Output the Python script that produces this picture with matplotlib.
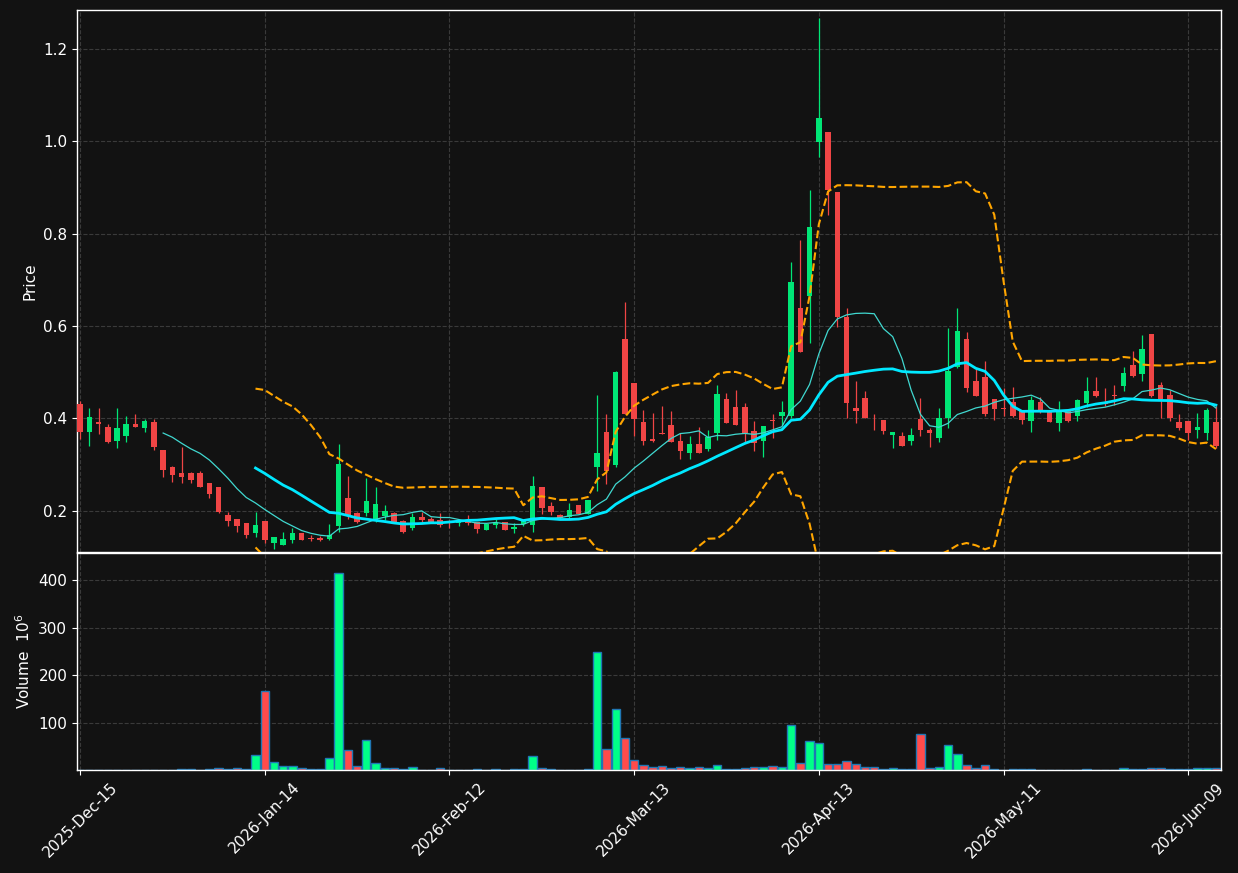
import numpy as np
import pandas as pd
import matplotlib
matplotlib.use("Agg")
from matplotlib import pyplot as plt

# daily OHLC (price) and volume (millions), one entry per trading day
opens = [0.432, 0.370, 0.393, 0.382, 0.352, 0.361, 0.388, 0.380, 0.393, 0.332,
         0.295, 0.282, 0.282, 0.282, 0.261, 0.252, 0.191, 0.183, 0.174, 0.153,
         0.178, 0.131, 0.127, 0.138, 0.152, 0.1415, 0.1415, 0.139, 0.168, 0.228,
         0.196, 0.196, 0.181, 0.188, 0.196, 0.178, 0.163, 0.187, 0.183, 0.1805,
         0.175, 0.1735, 0.1805, 0.177, 0.159, 0.169, 0.176, 0.1617, 0.172, 0.170,
         0.252, 0.211, 0.191, 0.186, 0.213, 0.1935, 0.294, 0.371, 0.2996, 0.572,
         0.477, 0.393, 0.356, 0.369, 0.386, 0.3515, 0.3255, 0.345, 0.333, 0.3695,
         0.442, 0.424, 0.424, 0.373, 0.352, 0.396, 0.405, 0.405, 0.640, 0.664,
         0.999, 1.020, 0.890, 0.620, 0.422, 0.445, 0.402, 0.396, 0.364, 0.362,
         0.352, 0.399, 0.375, 0.3587, 0.402, 0.512, 0.572, 0.481, 0.490, 0.442,
         0.423, 0.435, 0.4165, 0.3955, 0.436, 0.417, 0.391, 0.417, 0.406, 0.434,
         0.460, 0.4344, 0.451, 0.471, 0.516, 0.497, 0.583, 0.473, 0.451, 0.393,
         0.395, 0.376, 0.3695, 0.393]
highs = [0.437, 0.422, 0.422, 0.388, 0.422, 0.405, 0.409, 0.399, 0.399, 0.332,
         0.297, 0.339, 0.285, 0.287, 0.261, 0.252, 0.1985, 0.183, 0.174, 0.197,
         0.178, 0.144, 0.1545, 0.163, 0.153, 0.148, 0.146, 0.172, 0.345, 0.276,
         0.198, 0.271, 0.252, 0.212, 0.197, 0.180, 0.196, 0.197, 0.187, 0.195,
         0.1805, 0.183, 0.1907, 0.177, 0.172, 0.1827, 0.176, 0.173, 0.180, 0.276,
         0.252, 0.2195, 0.193, 0.2167, 0.213, 0.2245, 0.450, 0.409, 0.503, 0.652,
         0.477, 0.418, 0.4115, 0.426, 0.416, 0.368, 0.363, 0.382, 0.375, 0.473,
         0.455, 0.462, 0.434, 0.395, 0.384, 0.410, 0.438, 0.738, 0.786, 0.894,
         1.266, 1.020, 0.890, 0.639, 0.481, 0.460, 0.410, 0.396, 0.370, 0.370,
         0.379, 0.444, 0.380, 0.422, 0.5955, 0.639, 0.587, 0.509, 0.525, 0.442,
         0.4656, 0.468, 0.4165, 0.449, 0.446, 0.419, 0.438, 0.419, 0.4424, 0.4894,
         0.4894, 0.4656, 0.472, 0.511, 0.5463, 0.581, 0.583, 0.4792, 0.4619, 0.4093,
         0.395, 0.4115, 0.4222, 0.4273]
lows = [0.355, 0.341, 0.366, 0.347, 0.336, 0.350, 0.381, 0.370, 0.332, 0.274,
        0.263, 0.261, 0.261, 0.251, 0.227, 0.196, 0.168, 0.154, 0.142, 0.144,
        0.131, 0.118, 0.127, 0.131, 0.136, 0.135, 0.134, 0.137, 0.154, 0.182,
        0.173, 0.188, 0.175, 0.1805, 0.175, 0.152, 0.159, 0.177, 0.175, 0.165,
        0.164, 0.1675, 0.1703, 0.1517, 0.158, 0.1625, 0.158, 0.153, 0.167, 0.155,
        0.1935, 0.1907, 0.182, 0.182, 0.1935, 0.193, 0.243, 0.258, 0.2946, 0.41,
        0.361, 0.342, 0.350, 0.3667, 0.350, 0.313, 0.313, 0.3255, 0.3305, 0.354,
        0.391, 0.386, 0.349, 0.3305, 0.316, 0.357, 0.385, 0.400, 0.543, 0.564,
        0.965, 0.840, 0.599, 0.402, 0.390, 0.400, 0.375, 0.367, 0.335, 0.341,
        0.343, 0.361, 0.339, 0.350, 0.379, 0.509, 0.457, 0.449, 0.4056, 0.397,
        0.4056, 0.404, 0.388, 0.370, 0.4115, 0.392, 0.372, 0.3925, 0.3955, 0.4245,
        0.4461, 0.4273, 0.4294, 0.4604, 0.4907, 0.482, 0.446, 0.4006, 0.3948, 0.3753,
        0.3537, 0.3573, 0.3537, 0.3357]
closes = [0.370, 0.404, 0.387, 0.350, 0.380, 0.388, 0.3825, 0.395, 0.339, 0.289,
          0.278, 0.274, 0.267, 0.252, 0.237, 0.1985, 0.179, 0.168, 0.147, 0.170,
          0.138, 0.144, 0.139, 0.152, 0.138, 0.1395, 0.1375, 0.148, 0.302, 0.188,
          0.175, 0.222, 0.215, 0.200, 0.176, 0.1545, 0.187, 0.1805, 0.177, 0.170,
          0.1735, 0.1805, 0.174, 0.161, 0.172, 0.1735, 0.159, 0.1654, 0.178, 0.254,
          0.207, 0.198, 0.1855, 0.202, 0.1935, 0.224, 0.3255, 0.287, 0.501, 0.4106,
          0.398, 0.352, 0.352, 0.3667, 0.350, 0.3305, 0.345, 0.3255, 0.359, 0.453,
          0.391, 0.386, 0.3695, 0.346, 0.384, 0.394, 0.413, 0.696, 0.543, 0.8145,
          1.050, 0.894, 0.619, 0.434, 0.416, 0.400, 0.400, 0.373, 0.370, 0.341,
          0.3645, 0.374, 0.3695, 0.401, 0.503, 0.590, 0.466, 0.449, 0.410, 0.421,
          0.4215, 0.406, 0.3976, 0.440, 0.4186, 0.393, 0.4186, 0.3955, 0.440, 0.460,
          0.449, 0.4316, 0.448, 0.498, 0.491, 0.5506, 0.449, 0.442, 0.402, 0.380,
          0.3695, 0.382, 0.4186, 0.341]
volumes = [0.8, 0.6, 0.7, 0.5, 0.6, 0.2, 0.2, 0.3, 0.7, 0.8,
           0.9, 2.6, 1.2, 1.0, 2.6, 4.7, 2.6, 4.7, 2.6, 32.3,
           165.7, 16.7, 8.3, 8.3, 4.7, 2.6, 2.6, 25.9, 415.5, 42.8,
           9.0, 64.0, 15.3, 4.7, 4.7, 2.6, 6.8, 1.0, 0.9, 4.7,
           0.8, 0.7, 0.9, 2.6, 0.8, 2.6, 0.9, 2.6, 2.6, 30.1,
           4.7, 2.6, 0.8, 0.7, 0.9, 2.6, 248.2, 45.0, 127.5, 68.2,
           21.7, 11.1, 6.8, 9.0, 4.0, 6.8, 4.0, 6.8, 4.0, 11.1,
           1.9, 1.9, 4.7, 6.8, 6.8, 9.0, 6.8, 95.8, 15.3, 62.0,
           57.7, 13.2, 13.2, 19.5, 13.2, 6.8, 6.8, 1.9, 4.7, 1.9,
           1.9, 76.7, 4.0, 6.8, 53.4, 34.4, 11.1, 4.0, 11.1, 1.9,
           0.6, 1.9, 1.9, 1.9, 0.8, 0.7, 0.6, 0.7, 0.8, 1.9,
           0.7, 0.6, 0.8, 4.0, 1.9, 1.9, 4.0, 4.0, 1.9, 1.9,
           1.9, 4.0, 4.0, 4.0]

holidays = ["2025-12-25", "2026-01-01", "2026-01-19", "2026-02-16",
            "2026-04-03", "2026-05-25"]
dates = pd.bdate_range("2025-12-15", periods=len(closes), freq="C",
                       holidays=holidays)

BG = "#121212"
UP = "#00e676"
DOWN = "#f04545"
VUP = "#00ff88"
VDOWN = "#ff4b4b"

o = np.array(opens)
h = np.array(highs)
l = np.array(lows)
c = np.array(closes)
v = np.array(volumes)
x = np.arange(len(c))
up = c >= o

close_s = pd.Series(c)
ma10 = close_s.rolling(10).mean()
ma20 = close_s.rolling(20).mean()
std20 = close_s.rolling(20).std(ddof=0)
bb_up = ma20 + 2 * std20
bb_lo = ma20 - 2 * std20

fig = plt.figure(figsize=(12.38, 8.73), dpi=100, facecolor=BG)
W, H = 1238, 873
ax = fig.add_axes([77 / W, 1 - 552 / H, (1221 - 77) / W, 542 / H])
axv = fig.add_axes([77 / W, 1 - 770 / H, (1221 - 77) / W, 217 / H], sharex=ax)

for a in (ax, axv):
    a.set_facecolor(BG)
    for s in a.spines.values():
        s.set_color("white")
        s.set_linewidth(1.0)
    a.grid(True, linestyle="--", color="#3a3a3a", linewidth=0.8)
    a.set_axisbelow(True)
    a.tick_params(colors="white", labelsize=11)

# candles
ccol = np.where(up, UP, DOWN)
ax.vlines(x, l, h, colors=ccol, linewidth=0.9, zorder=2)
body_lo = np.minimum(o, c)
body_h = np.maximum(np.abs(c - o), 0.0012)
ax.bar(x, body_h, bottom=body_lo, width=0.6, color=ccol, linewidth=0, zorder=3)

# overlays
ax.plot(x, ma10, color="#40d8d0", linewidth=0.9, zorder=4)
ax.plot(x, ma20, color="#00e8ff", linewidth=2.0, zorder=4)
ax.plot(x, bb_up, color="#ffa500", linestyle="--", linewidth=1.5, zorder=4)
ax.plot(x, bb_lo, color="#ffa500", linestyle="--", linewidth=1.5, zorder=4)

ax.set_ylim(0.111, 1.284)
ax.set_yticks([0.2, 0.4, 0.6, 0.8, 1.0, 1.2])
ax.set_ylabel("Price", color="white", fontsize=11)
ax.tick_params(labelbottom=False)

# volume
vcol = np.where(up, VUP, VDOWN)
axv.bar(x, v, width=0.9, color=vcol, edgecolor="#1f77b4", linewidth=1.0)
axv.set_ylim(0.3 * v.min(), 1.1 * v.max())
axv.set_yticks([100, 200, 300, 400])
axv.set_ylabel("Volume  $10^{6}$", color="white", fontsize=11)

ticks = list(range(0, len(c), 20))
axv.set_xticks(ticks)
axv.set_xticklabels([dates[i].strftime("%Y-%b-%d") for i in ticks],
                    rotation=45, ha="center")
axv.set_xlim(-0.33, 123.55)

fig.savefig("out.png", dpi=100, facecolor=BG)
